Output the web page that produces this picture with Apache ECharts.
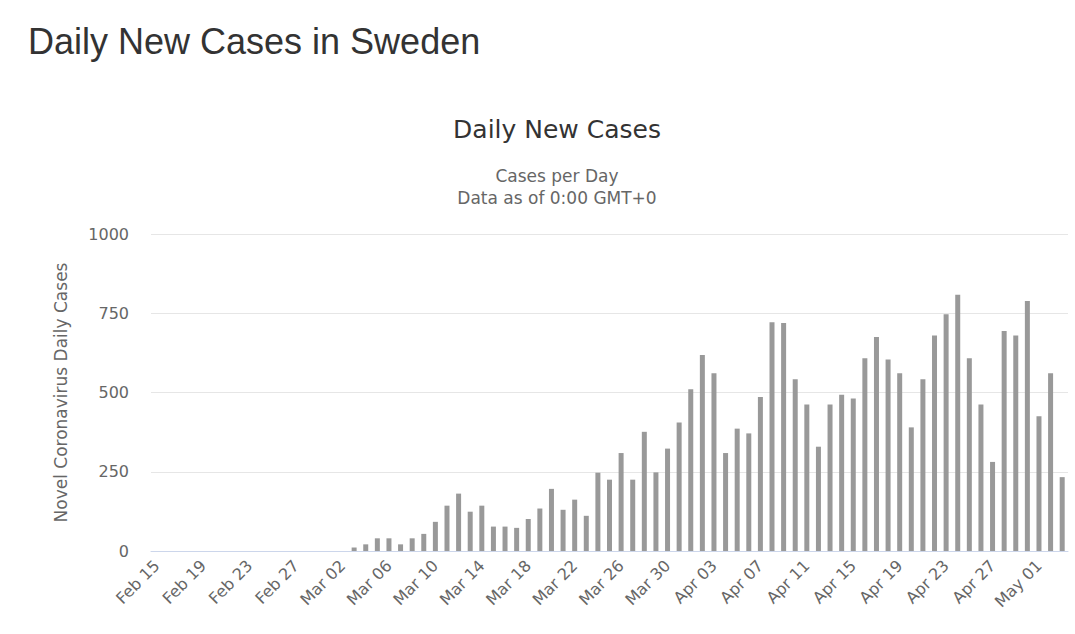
<!DOCTYPE html>
<html>
<head>
<meta charset="utf-8">
<script src="https://cdn.jsdelivr.net/npm/echarts@6/dist/echarts.min.js"></script>
<style>
  html, body { margin: 0; padding: 0; background: #fff; }
  #chart { width: 1075px; height: 634px; }
</style>
</head>
<body>
<div id="chart"></div>
<script>
// dates Feb 15 .. May 03 (2020)
var months = [['Feb', 15, 29], ['Mar', 1, 31], ['Apr', 1, 30], ['May', 1, 3]];
var days = [];
months.forEach(function (m) {
  for (var d = m[1]; d <= m[2]; d++) days.push(m[0] + ' ' + (d < 10 ? '0' + d : d));
});

// values, Feb 15 .. May 03
var febCases = [0, 0, 0, 0, 0, 0, 0, 0, 0, 0, 0, 0, 0, 0, 0];
var marCases = [0, 0, 11, 21, 40, 40, 21, 40, 54, 92, 143, 181, 124, 143, 77, 77,
  73, 101, 134, 196, 130, 162, 111, 247, 225, 309, 225, 376, 248, 323, 405];
var aprCases = [510, 618, 561, 309, 386, 371, 486, 722, 719, 542, 462, 329, 462, 493, 481,
  608, 675, 604, 561, 390, 542, 680, 747, 808, 608, 462, 281, 694, 680, 789];
var mayCases = [425, 561, 233];
var cases = febCases.concat(marCases, aprCases, mayCases);

var yTicks = [0, 250, 500, 750, 1000];

var font = 'DejaVu Sans';
var chart = echarts.init(document.getElementById('chart'), null, { renderer: 'svg' });
chart.setOption({
  animation: false,
  title: [
    {
      text: 'Daily New Cases in Sweden',
      left: 23, top: 18,
      textStyle: { fontFamily: 'Liberation Sans', fontSize: 36, fontWeight: 'normal', color: '#333' }
    },
    {
      text: 'Daily New Cases',
      left: 552, top: 112, textAlign: 'center',
      textStyle: { fontFamily: font, fontSize: 25, fontWeight: 'normal', color: '#333' }
    },
    {
      text: 'Cases per Day\nData as of 0:00 GMT+0',
      left: 552, top: 160, textAlign: 'center',
      textStyle: { fontFamily: font, fontSize: 17, fontWeight: 'normal', color: '#666', lineHeight: 22 }
    }
  ],
  grid: { left: 151, right: 7, top: 234, bottom: 83, containLabel: false },
  xAxis: {
    type: 'category',
    data: days,
    axisLine: { lineStyle: { color: '#ccd6eb' } },
    axisTick: { show: false },
    axisLabel: {
      interval: 3, rotate: 45, margin: 12,
      fontFamily: font, fontSize: 16, color: '#666'
    }
  },
  yAxis: {
    type: 'value',
    min: yTicks[0], max: yTicks[yTicks.length - 1], interval: 250,
    name: 'Novel Coronavirus Daily Cases',
    nameLocation: 'middle', nameGap: 82,
    nameTextStyle: { fontFamily: font, fontSize: 17, color: '#666' },
    axisLine: { show: false },
    axisTick: { show: false },
    axisLabel: {
      margin: 22, fontFamily: font, fontSize: 16, color: '#666',
      formatter: function (v) { return String(v); }
    },
    splitLine: { lineStyle: { color: '#e6e6e6' } }
  },
  series: [{
    type: 'bar',
    data: cases,
    barWidth: 5,
    itemStyle: { color: '#999999' }
  }]
});
</script>
</body>
</html>
